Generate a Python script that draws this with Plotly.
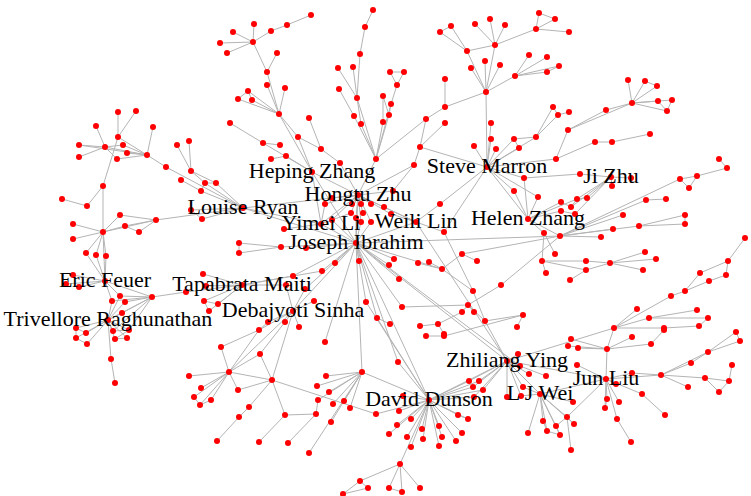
import plotly.graph_objects as go

# Each node: (id, x, y, "ids it is linked to")  -- layout coordinates
cluster_top_left = [
    ("t1",118,112,"t3"),("t2",136,111,"t3"),("t3",118,137,"e1 a1"),("t4",96,126,"t6"),("t5",153,127,"a1"),
    ("t6",105,147,"a1"),("t7",79,145,"t6 a1"),("t8",79,157,"t6"),("t9",123,145,"a1 t6"),("t10",127,153,"a1"),
    ("t11",117,159,"a1 t6"),("a1",147,155,"a2"),("a2",166,167,"LR"),("t12",177,145,"b1"),("t13",189,141,"b1"),
    ("b1",191,171,"b2 b3"),("b2",205,183,"b3 LR"),("b3",216,183,"LR"),("b4",201,191,"b2 LR"),("l3",181,180,"b4"),
    ("LR",243,208,"YL JI HT"),("l1",191,210,"LR"),("l2",202,219,"LR l1"),
]
cluster_feuer = [
    ("e1",103,186,"e5"),("e2",62,199,"e3"),("e3",87,206,"e1"),("e4",120,215,"e6"),
    ("e5",103,232,"e4 e6 e7 e10 e11 e12 e13 EF"),("e6",156,220,"LR"),("e7",73,224,""),
    ("e8",125,226,"e5 e6"),("e9",139,232,"e6 e8"),("e10",73,239,""),("e11",86,253,"EF"),
    ("e12",96,255,"EF"),("e13",106,256,"EF"),("EF",105,281,"f6 f2 f3"),
    ("f1",73,275,"EF"),("f1b",66,284,"EF"),("f1c",79,287,"EF"),
    ("f2",120,296,"f6 TR"),("f3",112,301,"f6 TR"),("f4",125,302,"f6 TR"),("f5",122,313,"f6 TR"),
    ("f6",152,297,"TR g1 f9 f12"),("g1",186,292,"TM"),
    ("TR",108,320,"f7 f8 f9 f10 f11 f12 f13 f14"),
    ("f7",76,328,"f8 f10"),("f8",86,333,""),("f10",76,338,"f11"),("f11",87,344,""),
    ("f9",113,331,"f12"),("f12",129,330,"f13"),("f13",115,339,"f14"),("f14",127,338,""),
    ("f15",111,359,"TR f16"),("f16",115,383,""),
]
cluster_maiti_sinha = [
    ("TM",242,285,"m1 m2 m3 m4 m5 m6 j5"),("m1",203,274,""),("m2",206,286,""),("m3",204,301,"m4"),
    ("m4",218,304,""),("m5",209,311,"m3"),("m6",293,276,"JI"),
    ("DS",293,311,"m7 m8 d1 d2 d3 d4 d5 JI"),("m7",286,285,"TM"),("m8",305,289,"JI"),
    ("d1",314,301,""),("d2",268,322,""),("d3",285,322,""),("d4",259,330,"d2"),("d5",299,327,""),
]
cluster_ibrahim = [
    ("JI",356,243,"j1 j2 j3 j4 j5 YL HT WL ZY o2 w13"),("j1",281,247,""),("j2",306,248,""),
    ("j1a",239,243,"j1"),("j1b",239,253,"j1 j1a"),("j3",359,261,""),("j4",335,263,""),
    ("j5",322,271,""),("YL",321,224,"HT c1 c7"),("yl1",284,229,"YL"),("jj1",366,302,"JI DD"),
]
cluster_zhu = [
    ("HT",358,195,"c1 c2 c3 c4 c5 c6 c7 c8 c9 c10 c11 c12 c13 c14 WL"),
    ("c1",325,204,""),("c2",332,198,""),("c3",352,204,""),("c4",361,204,""),("c5",371,204,""),
    ("c6",332,220,"JI"),("c7",351,213,""),("c8",363,213,""),("c9",356,218,"JI"),("c10",361,222,"JI"),
    ("c11",371,222,"JI"),("c12",384,207,""),("c13",391,214,""),("c14",393,191,""),
    ("WL",416,222,"c13 c12 w1 w2 ZY"),("w1",440,204,"SM"),("w2",444,232,"SM"),
]
cluster_heping = [
    ("HZ",312,172,"h1 h7 h8 h9 HT YL JI"),("h1",279,114,"h2 h3 h4 h5 h6 h11 h9"),
    ("h2",267,85,""),("h3",285,88,""),("h4",248,91,"h5 h6"),("h5",238,99,""),("h6",252,100,""),
    ("h11",267,72,"h12 h13"),("h12",277,53,""),("h13",253,42,"h14 h15 h16 h17 h18"),
    ("h14",254,24,""),("h15",233,32,""),("h16",220,43,""),("h17",227,53,""),
    ("h18",271,31,"h19"),("h19",287,25,"h20"),("h20",311,15,""),
    ("h7",263,143,"h21 h22"),("h21",230,123,""),("h22",280,145,""),
    ("h8",286,156,"h23"),("h23",271,159,""),("h9",298,137,"h10"),("h10",321,149,"h24 h25"),
    ("h24",309,118,""),("h25",340,163,"HT"),
]
cluster_top = [
    ("n0",376,159,"HT n7 n9 p5 p6 p7 s1"),("n1",373,10,"n2"),("n2",365,27,"n3"),("n3",360,54,"n9"),
    ("n4",338,68,"n9"),("n5",353,67,"n9"),("n6",339,89,"n7"),("n7",354,116,""),("n8",361,124,"n9 n0"),
    ("n9",357,98,""),
    ("p1",390,72,"p2 p3"),("p2",404,72,"p3"),("p3",397,85,"p5"),("p4",383,96,"p6 p7"),("p5",391,104,"p6"),
    ("p6",389,115,""),("p7",383,122,""),
    ("s1",426,119,"s2 s5"),("s2",445,107,"s3 SMh"),("s3",445,79,""),("s4",445,123,"s5"),
    ("s5",420,147,"s6"),("s6",414,165,"c14 HT"),
]
cluster_marron = [
    ("SMh",486,92,"u1 u2 u3 u4 u5 u6 SM"),("u1",495,45,"u7 u8 u9 u10 u2"),("u2",467,51,"u11 u12"),
    ("u3",485,61,""),("u4",471,68,""),("u5",500,65,""),("u6",515,76,"u16 u17 u18 u19"),
    ("u7",475,24,""),("u8",490,19,""),("u9",505,25,""),("u10",536,29,"u13 u14 u15"),
    ("u11",451,26,"u12"),("u12",440,32,""),("u13",539,13,"u14"),("u14",555,19,""),("u15",569,32,""),
    ("u16",529,55,""),("u17",547,57,""),("u18",559,66,"u19"),("u19",547,72,""),
    ("SM",487,167,"v1 v2 v3 v4 v5 v6 v7 v8 HZh v9 v10 v11 s5"),
    ("v1",491,123,""),("v2",491,139,""),("v3",496,149,""),("v4",474,146,""),("v5",514,139,"v6 v7"),
    ("v6",536,137,"v12 v13"),("v7",519,148,""),("v12",553,107,"v13"),("v13",558,115,""),("v15",569,112,"v13"),
    ("v8",556,159,"x1 x10"),("x1",568,130,"x2 x3"),("x2",606,110,"x3"),
    ("x3",632,103,"x4 x5 x6 x7 x8 x9"),("x4",628,80,""),("x5",645,81,"x6"),("x6",657,86,""),
    ("x7",658,101,"x9"),("x8",672,100,"x9"),("x9",667,111,""),("x10",595,142,"x11"),
    ("x11",612,142,"x12"),("x12",650,134,""),
]
cluster_helen = [
    ("HZh",528,219,"v9 v10 v11 y1 y2 y3 H2 z4"),("v9",524,178,""),("v10",514,191,""),("v11",538,197,""),
    ("y1",561,202,""),("y2",561,211,""),("y3",544,233,"y4 y5"),("y4",555,254,""),("y5",542,261,"y6"),
    ("y6",546,273,""),
    ("JZ",611,177,"z1 z2 z3 z4 z5 z6 z7"),("z1",580,174,"v9"),("z2",631,178,""),("z3",612,186,""),
    ("z4",577,199,"z5"),("z5",587,198,""),("z6",571,207,"y1 z4"),("z7",575,214,"y2"),
    ("H2",560,236,"r1 r3 r8 r9 r12 r13 JI w3"),("r1",646,200,"r2"),("r2",666,199,""),
    ("r3",680,179,"r4 r5"),("r4",697,176,"r5 r6"),("r5",689,188,""),("r6",727,168,"r7"),("r7",719,159,""),
    ("r8",623,215,""),("r9",639,226,"r10 r11"),("r10",685,215,"r11"),("r11",685,224,""),
    ("r12",613,229,""),("r13",601,237,""),
    ("q0",610,263,"q1 q2 q3 q4 q5"),("q1",645,252,""),("q2",656,259,""),("q3",643,270,""),
    ("q4",586,261,"y5"),("q5",586,270,"y5 q6"),("q6",570,280,""),
]
cluster_right = [
    ("q7",614,328,"q8 q9 q10 q11 ZY jl8"),("q8",637,309,""),("q9",649,318,"q18 q19"),("q10",664,328,"q20"),
    ("q11",671,296,"q12"),("q12",685,291,"q13 q14"),("q13",700,273,"q15"),("q14",709,281,"q17"),
    ("q15",728,261,"q16 q17"),("q16",745,238,""),("q17",726,275,""),("q18",697,310,""),
    ("q19",708,318,"q20"),("q20",699,326,""),
]
cluster_mid = [
    ("w3",462,254,"w22 w24"),("w24",477,261,""),("w22",442,269,"w18 w19 w4 JI"),("w18",429,262,""),
    ("w19",418,263,""),("w4",473,291,"w2 w7"),("w11",501,285,"H2 w8"),("w8",468,305,"w5 w6 w7"),
    ("w5",462,312,""),("w6",474,312,""),("w7",485,321,"ZY"),("w9",523,315,"w7 w10"),("w10",517,327,""),
    ("w20",394,259,"JI"),("w21",389,265,"JI"),("w23",399,279,"JI"),("w12",402,307,"JI w8"),
    ("w13",377,318,"DD"),("w14",390,324,"w13"),("w15",420,326,"w16"),("w16",438,324,"w5"),("w17",444,334,"w16"),
]
cluster_ying_wei = [
    ("ZY",507,361,"o1 o2 o3 o4 o5 o6 o7 o8 o11 o12 JL LJW"),("o1",518,354,""),("o2",520,366,""),
    ("o3",529,374,""),("o4",546,376,""),
    ("o5",469,381,"DD"),("o6",479,381,"DD"),("o7",473,387,"DD"),("o8",483,390,"DD"),("o9",474,397,"DD ZY"),
    ("o10",507,397,"ZY"),("o11",523,387,""),("o12",521,396,""),("o13",426,336,"o14"),("o14",444,336,"w9"),
    ("o15",398,362,"DD JI"),
    ("LJW",540,394,"lw1 lw2 lw3 lw4 lw5 jl28 jl29 jl30 o11 o12 JL"),("lw1",528,433,""),("lw2",543,421,"lw3"),
    ("lw3",547,431,"lw5"),("lw4",556,426,"lw5 jl29"),("lw5",560,435,""),
]
cluster_liu = [
    ("JL",606,379,"jl1 jl2 jl3 jl4 jl6 jl7 jl8 jl9 jl10 jl12 jl29"),("jl1",607,399,""),("jl2",619,402,""),
    ("jl3",605,408,"jl1"),("jl4",617,419,"jl5"),("jl5",631,442,""),("jl6",616,384,""),("jl7",577,365,""),
    ("jl8",607,349,"jl22 jl23 jl25 jl26 jl27"),("jl9",632,373,""),("jl10",642,394,"jl11"),("jl11",665,415,""),
    ("jl12",661,375,"jl9 jl13 jl14 jl17 jl18"),("jl13",691,363,"jl14"),("jl14",708,352,"jl15 jl16"),
    ("jl15",736,332,"jl16"),("jl16",740,341,""),("jl17",688,387,""),("jl18",705,378,"jl19 jl20"),
    ("jl19",729,381,"jl20 jl21"),("jl20",719,392,""),("jl21",732,365,""),
    ("jl22",632,337,""),("jl23",651,344,"jl24"),("jl24",664,330,""),("jl25",571,339,""),("jl26",568,346,""),
    ("jl27",578,348,""),("jl28",573,402,""),("jl29",567,417,"jl30 jl31"),("jl30",574,424,""),("jl31",571,450,""),
]
cluster_dunson = [
    ("DD",429,400,"dd1 dd2 dd3 dd4 dd5 dd6 dd7 dd8 dd9 dd10 dd11 dd12 dd13 dd14 dd15 dd16 dd17 kk i0 JI ZY"),
    ("dd1",403,396,""),("dd2",399,411,""),("dd3",411,419,""),("dd4",397,425,""),("dd5",389,434,""),
    ("dd6",422,429,""),("dd7",439,426,""),("dd8",407,437,""),("dd9",423,439,""),("dd10",442,437,""),
    ("dd11",411,447,""),("dd12",439,446,""),("dd13",458,415,"dd14"),("dd14",468,419,""),("dd15",456,441,""),
    ("dd16",462,433,""),("dd17",400,464,"dd18 dd19 dd20 dd21"),("dd18",389,488,"dd19"),("dd19",402,492,""),
    ("dd20",420,488,""),("dd21",360,481,"dd22 dd23"),("dd22",368,488,"dd23"),("dd23",343,494,""),
    ("i0",362,372,"i1 i2 i3 i4 i5 i6 i7 i8 i9 JI"),("i1",326,376,""),("i2",317,386,""),("i3",329,392,""),
    ("i4",318,400,"i11"),("i5",333,404,""),("i6",344,401,""),("i7",350,408,""),("i8",331,422,""),
    ("i9",309,453,""),("i10",325,342,"JI"),("i11",316,414,"i12 k3"),("i12",288,443,""),
]
cluster_lower_left = [
    ("k1",229,372,"k4 k5 k6 k7 k8 k9 k10 k11 d4 DS"),("k4",189,376,""),("k5",201,388,""),("k6",194,397,"k8"),
    ("k7",211,400,"k8"),("k8",200,405,""),("k9",238,390,""),("k10",221,347,"d4"),("k11",260,354,"d3"),
    ("k2",272,380,"k1 k9 k11 k12 k3 kk DS"),("k12",249,407,"k13"),("k13",239,417,"k14"),("k14",217,441,""),
    ("k3",285,415,"k15"),("k15",259,442,""),("kk",376,414,""),
]

label_ids = ["HZ","HT","LR","YL","WL","JI","SM","JZ","HZh","EF","TM","TR","DS","ZY","LJW","JL","DD"]
label_text = ["Heping Zhang","Hongtu Zhu","Louise Ryan","Yimei Li","Weili Lin","Joseph Ibrahim",
              "Steve Marron","Ji Zhu","Helen Zhang","Eric Feuer","Tapabrata Maiti",
              "Trivellore Raghunathan","Debajyoti Sinha","Zhiliang Ying","L J Wei","Jun Liu","David Dunson"]

clusters = [cluster_top_left, cluster_feuer, cluster_maiti_sinha, cluster_ibrahim, cluster_zhu,
            cluster_heping, cluster_top, cluster_marron, cluster_helen, cluster_right, cluster_mid,
            cluster_ying_wei, cluster_liu, cluster_dunson, cluster_lower_left]

pos = {}
for cl in clusters:
    for nid, x, y, _ in cl:
        pos[nid] = (x, y)

edges = set()
for cl in clusters:
    for nid, x, y, links in cl:
        for other in links.split():
            if other in pos and other != nid:
                edges.add(tuple(sorted((nid, other))))

ex, ey = [], []
for a, b in sorted(edges):
    ex += [pos[a][0], pos[b][0], None]
    ey += [pos[a][1], pos[b][1], None]

nx = [p[0] for p in pos.values()]
ny = [p[1] for p in pos.values()]

fig = go.Figure()
fig.add_trace(go.Scatter(x=ex, y=ey, mode="lines", line=dict(color="#b4b4b4", width=1),
                         hoverinfo="skip"))
fig.add_trace(go.Scatter(x=nx, y=ny, mode="markers",
                         marker=dict(color="#ff0000", size=6, line=dict(width=0)), hoverinfo="skip"))
fig.add_trace(go.Scatter(x=[pos[i][0] for i in label_ids], y=[pos[i][1] for i in label_ids],
                         mode="text", text=label_text, textposition="middle center",
                         textfont=dict(family="Liberation Serif", size=22, color="black"),
                         hoverinfo="skip", cliponaxis=False))
fig.update_layout(width=751, height=496, margin=dict(l=0, r=0, t=0, b=0),
                  paper_bgcolor="white", plot_bgcolor="white", showlegend=False,
                  xaxis=dict(range=[0, 751], visible=False),
                  yaxis=dict(range=[496, 0], visible=False))
# remove the default page margin so the figure fills the window exactly
fig.write_html("out.html", config={"displayModeBar": False},
               post_script="document.body.style.margin='0';document.body.style.overflow='hidden';")
